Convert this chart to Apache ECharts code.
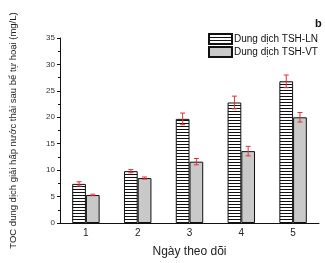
<!DOCTYPE html>
<html><head><meta charset="utf-8">
<script src="https://cdn.jsdelivr.net/npm/echarts@6/dist/echarts.min.js"></script>
<style>html,body{margin:0;padding:0;background:#fff}#c{width:325px;height:263px}</style>
</head><body><div id="c"></div>
<script>
const categories = ['1', '2', '3', '4', '5'];
const seriesNames = ['Dung dịch TSH-LN', 'Dung dịch TSH-VT'];
const lnValues = [7.4, 9.8, 19.7, 22.8, 26.8];
const lnErrors = [0.4, 0.3, 1.1, 1.2, 1.2];
const vtValues = [5.3, 8.5, 11.6, 13.6, 20.0];
const vtErrors = [0.15, 0.2, 0.6, 0.9, 0.9];
const yTicks = [0, 5, 10, 15, 20, 25, 30, 35];

const hatch = document.createElement('canvas');
hatch.width = 4; hatch.height = 3;
const hc = hatch.getContext('2d');
hc.fillStyle = '#ffffff'; hc.fillRect(0, 0, 4, 3);
hc.fillStyle = '#111111'; hc.fillRect(0, 0, 4, 1);

const BW = 0.265;
function errSeries(vals, errs, side) {
  return {
    type: 'custom', z: 10, silent: true,
    data: vals.map((v, i) => [i, v, errs[i]]),
    renderItem: function (params, api) {
      const i = api.value(0), v = api.value(1), e = api.value(2);
      const cw = api.size([1, 0])[0];
      const dx = side * cw * BW / 2;
      const top = api.coord([i, v + e]);
      const bot = api.coord([i, v - e]);
      const x = top[0] + dx;
      const cap = 2.5;
      const st = { stroke: '#e0323c', lineWidth: 1 };
      return { type: 'group', children: [
        { type: 'line', shape: { x1: x, y1: top[1], x2: x, y2: bot[1] }, style: st },
        { type: 'line', shape: { x1: x - cap, y1: top[1], x2: x + cap, y2: top[1] }, style: st },
        { type: 'line', shape: { x1: x - cap, y1: bot[1], x2: x + cap, y2: bot[1] }, style: st }
      ]};
    }
  };
}

const chart = echarts.init(document.getElementById('c'));
chart.setOption({
  animation: false,
  textStyle: { fontFamily: 'Liberation Sans, Arial, sans-serif' },
  grid: { left: 53, right: 6, top: 38, bottom: 34 },
  legend: {
    orient: 'vertical', left: 203, top: 28, itemWidth: 23, itemHeight: 10, itemGap: 1,
    icon: 'rect',
    textStyle: { fontSize: 10, color: '#111', padding: [0, 0, 0, -3] },
    data: seriesNames
  },
  graphic: [{ type: 'text', left: 315, top: 18, style: { text: 'b', font: 'bold 11px Liberation Sans, Arial', fill: '#111' } }],
  xAxis: {
    type: 'category', data: categories,
    name: 'Ngày theo dõi', nameLocation: 'middle', nameGap: 23,
    nameTextStyle: { fontSize: 12, color: '#222' },
    axisLine: { lineStyle: { color: '#111', width: 1 } },
    axisTick: { alignWithLabel: true, length: 3, lineStyle: { color: '#111' } },
    axisLabel: { fontSize: 10, color: '#222', margin: 5 }
  },
  yAxis: {
    type: 'value', min: 0, max: 35, interval: 5,
    name: 'TOC dung dịch giải hấp nước thải sau bể tự hoại (mg/L)',
    nameLocation: 'middle', nameGap: 42,
    nameTextStyle: { fontSize: 9.5, color: '#222' },
    axisLine: { show: true, lineStyle: { color: '#111', width: 1 } },
    axisTick: { show: true, length: 3, lineStyle: { color: '#111' } },
    minorTick: { show: true, splitNumber: 2, length: 2, lineStyle: { color: '#111' } },
    splitLine: { show: false },
    axisLabel: { fontSize: 8, color: '#333', margin: 5,
      formatter: v => yTicks.includes(v) ? String(v) : '' }
  },
  series: [
    { name: seriesNames[0], type: 'bar', data: lnValues, barWidth: (BW * 100) + '%', barGap: '0%',
      itemStyle: { color: { image: hatch, repeat: 'repeat' }, borderColor: '#111', borderWidth: 1 } },
    { name: seriesNames[1], type: 'bar', data: vtValues, barWidth: (BW * 100) + '%', barGap: '0%',
      itemStyle: { color: '#c9c9c9', borderColor: '#111', borderWidth: 1 } },
    errSeries(lnValues, lnErrors, -1),
    errSeries(vtValues, vtErrors, 1)
  ]
});
</script></body></html>
